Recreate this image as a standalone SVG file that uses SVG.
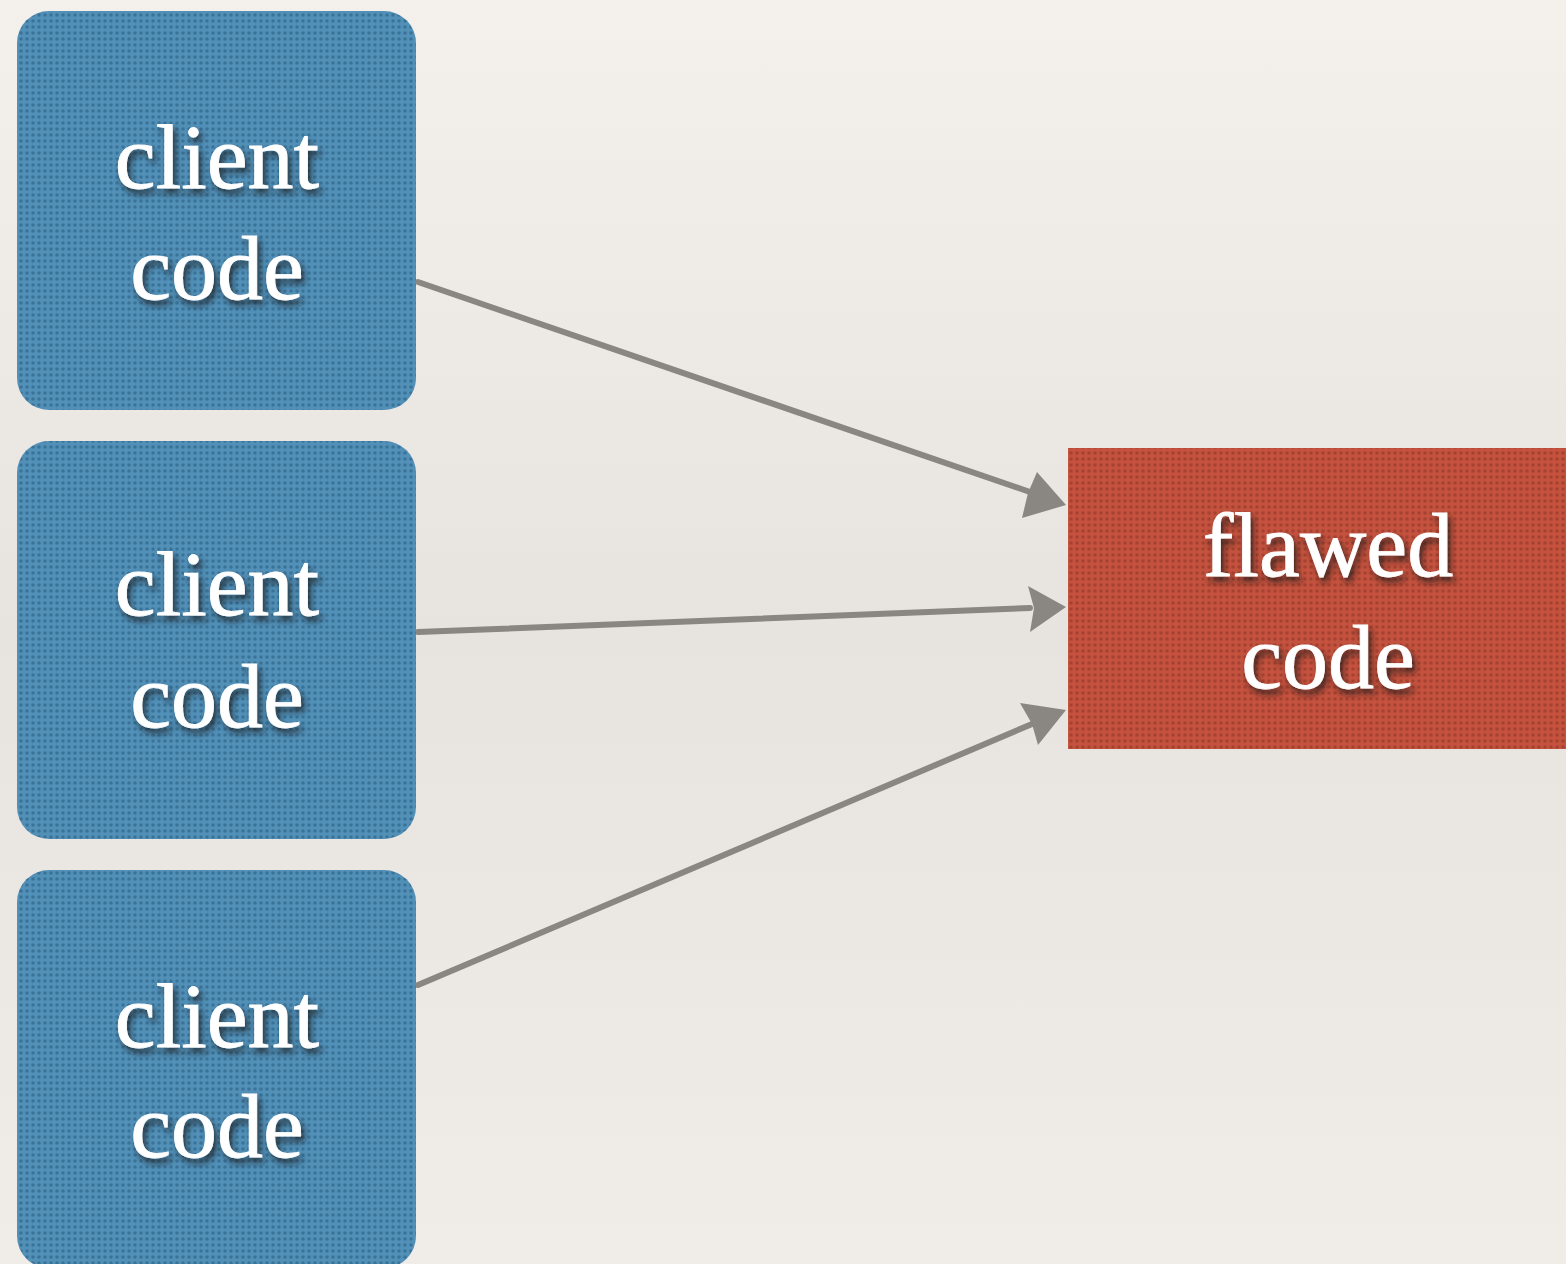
<svg xmlns="http://www.w3.org/2000/svg" width="1566" height="1264" viewBox="0 0 1566 1264">
<defs>
<linearGradient id="bg" x1="0" y1="0" x2="0" y2="1">
<stop offset="0" stop-color="#f4f1ec"/>
<stop offset="0.5" stop-color="#e7e3de"/>
<stop offset="1" stop-color="#f0ece7"/>
</linearGradient>
<pattern id="pb" width="6" height="6" patternUnits="userSpaceOnUse">
<rect width="6" height="6" fill="#5290b8"/>
<circle cx="3" cy="3" r="1.8" fill="#3a7399"/>
</pattern>
<pattern id="pr" width="6" height="6" patternUnits="userSpaceOnUse">
<rect width="6" height="6" fill="#c4523e"/>
<circle cx="3" cy="3" r="1.8" fill="#a64231"/>
</pattern>
<filter id="sh" x="-20%" y="-20%" width="140%" height="140%">
<feDropShadow dx="3" dy="5" stdDeviation="3" flood-color="#1a1a1a" flood-opacity="0.75"/>
</filter>
</defs>
<style>
.lbl{font-family:"Liberation Serif","DejaVu Serif",serif;font-size:92px;fill:#ffffff;text-anchor:middle;filter:url(#sh);stroke:#ffffff;stroke-width:0.8}
.blue{fill:url(#pb)}
.red{fill:url(#pr)}
.conn{stroke:#8a8681;stroke-width:6;fill:none;stroke-linecap:round}
.head{fill:#8a8681}
</style>
<rect width="1566" height="1264" fill="url(#bg)"/>
<g id="connectors">
<line class="conn" x1="418" y1="282" x2="1030" y2="492"/>
<path class="head" d="M1066,505 L1022,518 L1028,493 L1037,472 Z"/>
<line class="conn" x1="418" y1="632" x2="1030" y2="608"/>
<path class="head" d="M1066,607 L1030,632 L1034,608 L1028,586 Z"/>
<line class="conn" x1="418" y1="985" x2="1032" y2="724"/>
<path class="head" d="M1066,710 L1038,745 L1032,724 L1020,703 Z"/>
</g>
<g id="client1">
<rect class="blue" x="17" y="11" width="399" height="399" rx="32"/>
<text class="lbl" x="217" y="188">client</text>
<text class="lbl" x="217" y="299">code</text>
</g>
<g id="client2">
<rect class="blue" x="17" y="441" width="399" height="398" rx="32"/>
<text class="lbl" x="217" y="615">client</text>
<text class="lbl" x="217" y="727">code</text>
</g>
<g id="client3">
<rect class="blue" x="17" y="870" width="399" height="398" rx="32"/>
<text class="lbl" x="217" y="1047">client</text>
<text class="lbl" x="217" y="1157">code</text>
</g>
<g id="flawed">
<rect class="red" x="1068" y="448" width="498" height="301"/>
<text class="lbl" x="1328" y="576">flawed</text>
<text class="lbl" x="1328" y="688">code</text>
</g>
</svg>
